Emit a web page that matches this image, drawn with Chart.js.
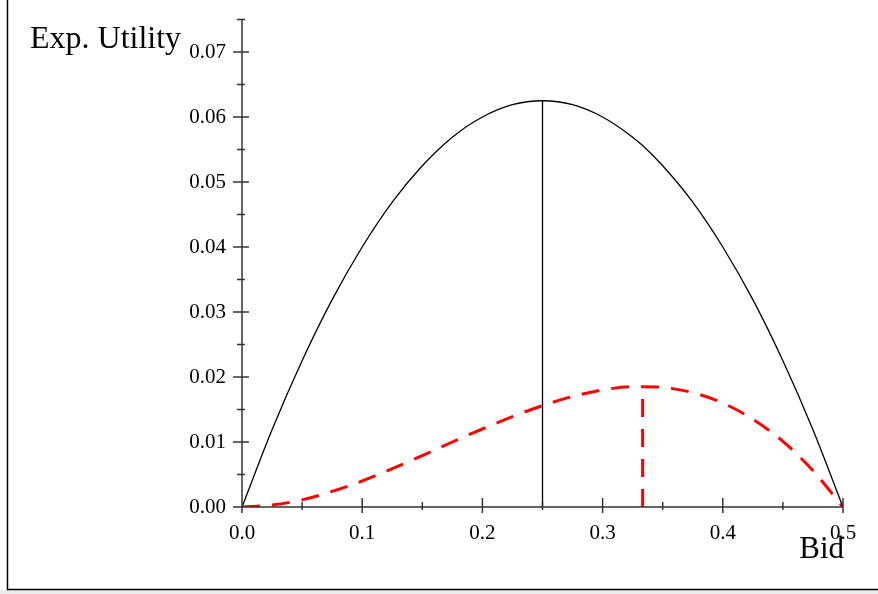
<!DOCTYPE html>
<html>
<head>
<meta charset="utf-8">
<script src="https://cdn.jsdelivr.net/npm/chart.js@4"></script>
<style>
  body { margin: 0; background: #fff; }
  #wrap { position: relative; width: 878px; height: 594px; }
</style>
</head>
<body>
<div id="wrap"><canvas id="plot" width="878" height="594"></canvas></div>
<script>
// bid values along x
const bids = [0, 0.025, 0.05, 0.075, 0.1, 0.125, 0.15, 0.175, 0.2, 0.225, 0.25,
  0.275, 0.3, 0.325, 0.3333, 0.35, 0.375, 0.4, 0.425, 0.45, 0.475, 0.5];
// solid black curve
const utilSolid = [0, 0.0119, 0.0225, 0.0319, 0.04, 0.0469, 0.0525, 0.0569, 0.06, 0.0619, 0.0625,
  0.0619, 0.06, 0.0569, 0.0556, 0.0525, 0.0469, 0.04, 0.0319, 0.0225, 0.0119, 0];
// red dashed curve
const utilDashed = [0, 0.0003, 0.0011, 0.0024, 0.004, 0.0059, 0.0079, 0.0100, 0.012, 0.0139, 0.0156,
  0.0170, 0.018, 0.0185, 0.0185, 0.0184, 0.0176, 0.016, 0.0135, 0.0101, 0.0056, 0];
// vertical markers at the maxima
const solidPeak = [{ x: 0.25, y: 0 }, { x: 0.25, y: 0.0625 }];
const dashedPeak = [{ x: 0.3333, y: 0 }, { x: 0.3333, y: 0.0185 }];

const xTicks = [0, 0.1, 0.2, 0.3, 0.4, 0.5];
const xMinor = [0.05, 0.15, 0.25, 0.35, 0.45];
const yTicks = [0, 0.01, 0.02, 0.03, 0.04, 0.05, 0.06, 0.07];
const yMinor = [0.005, 0.015, 0.025, 0.035, 0.045, 0.055, 0.065, 0.075];

const serif = "'Liberation Serif', 'DejaVu Serif', serif";

const pts = (ys) => bids.map((b, i) => ({ x: b, y: ys[i] }));

const axesPlugin = {
  id: "axesPlugin",
  beforeDraw: (chart) => {
    const c = chart.ctx;
    c.save();
    // frame of the picture
    c.fillStyle = "#ececec";
    c.fillRect(0, 590, 878, 4);
    c.strokeStyle = "#000";
    c.lineWidth = 1.5;
    c.beginPath();
    c.moveTo(7.5, 0);
    c.lineTo(7.5, 589.5);
    c.lineTo(878, 589.5);
    c.stroke();
    c.restore();
  },
  afterDatasetsDraw: (chart) => {
    const c = chart.ctx;
    const sx = chart.scales.x;
    const sy = chart.scales.y;
    const x0 = sx.getPixelForValue(0);
    const y0 = sy.getPixelForValue(0);
    c.save();
    c.strokeStyle = "#333";
    c.lineWidth = 1.5;
    c.beginPath();
    c.moveTo(x0, sy.getPixelForValue(0.075));
    c.lineTo(x0, y0);
    c.lineTo(sx.getPixelForValue(0.5), y0);
    yTicks.forEach((v) => {
      const p = sy.getPixelForValue(v);
      c.moveTo(x0 - 9, p);
      c.lineTo(x0 + 7, p);
    });
    yMinor.forEach((v) => {
      const p = sy.getPixelForValue(v);
      c.moveTo(x0 - 5, p);
      c.lineTo(x0 + 3, p);
    });
    xTicks.forEach((v) => {
      const p = sx.getPixelForValue(v);
      c.moveTo(p, y0 - 9);
      c.lineTo(p, y0 + 6);
    });
    xMinor.forEach((v) => {
      const p = sx.getPixelForValue(v);
      c.moveTo(p, y0 - 5);
      c.lineTo(p, y0 + 3);
    });
    c.stroke();
    // axis titles
    c.fillStyle = "#000";
    c.font = "32px " + serif;
    c.textAlign = "left";
    c.textBaseline = "alphabetic";
    c.fillText("Exp. Utility", 30, 48);
    c.font = "31px " + serif;
    c.textAlign = "right";
    c.fillText("Bid", 844, 558);
    c.restore();
  },
};

new Chart(document.getElementById("plot"), {
  type: "scatter",
  data: {
    datasets: [
      {
        data: pts(utilSolid),
        showLine: true,
        borderColor: "#000",
        borderWidth: 1.3,
        pointRadius: 0,
        cubicInterpolationMode: "monotone",
      },
      {
        data: solidPeak,
        showLine: true,
        borderColor: "#000",
        borderWidth: 1.3,
        pointRadius: 0,
      },
      {
        data: pts(utilDashed),
        showLine: true,
        borderColor: "#ff0000",
        borderWidth: 3,
        borderDash: [18, 12],
        pointRadius: 0,
        cubicInterpolationMode: "monotone",
      },
      {
        data: dashedPeak,
        showLine: true,
        borderColor: "#ff0000",
        borderWidth: 3,
        borderDash: [18, 12],
        pointRadius: 0,
      },
    ],
  },
  options: {
    responsive: false,
    animation: false,
    layout: { padding: { top: 19.5, right: 35, left: 0, bottom: 0 } },
    plugins: { legend: { display: false }, tooltip: { enabled: false } },
    scales: {
      x: {
        type: "linear",
        min: 0,
        max: 0.5,
        grid: { display: false, drawTicks: false },
        border: { display: false },
        ticks: {
          padding: 14,
          color: "#000",
          font: { family: serif, size: 21 },
          maxRotation: 0,
          callback: (v) => v.toFixed(1),
        },
        afterBuildTicks: (s) => { s.ticks = xTicks.map((v) => ({ value: v })); },
        afterFit: (s) => { s.height = 87; s.paddingLeft = 0; s.paddingRight = 0; },
      },
      y: {
        type: "linear",
        min: 0,
        max: 0.075,
        grid: { display: false, drawTicks: false },
        border: { display: false },
        ticks: {
          padding: 16,
          color: "#000",
          font: { family: serif, size: 21 },
          callback: (v) => v.toFixed(2),
        },
        afterBuildTicks: (s) => { s.ticks = yTicks.map((v) => ({ value: v })); },
        afterFit: (s) => { s.width = 242; s.paddingTop = 0; s.paddingBottom = 0; },
      },
    },
  },
  plugins: [axesPlugin],
});
</script>
</body>
</html>
